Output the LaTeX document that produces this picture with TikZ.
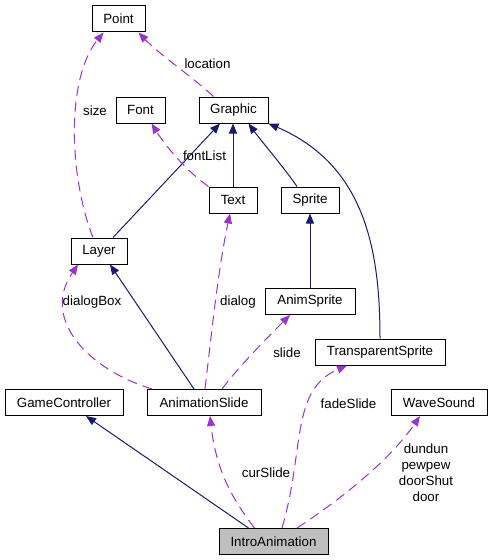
\documentclass[tikz,border=0pt]{standalone}
\usepackage{fontspec}
\setmainfont{Liberation Sans}
\usepackage{tikz}
\usetikzlibrary{arrows.meta,calc}

\definecolor{inhblue}{HTML}{191970}
\definecolor{usepurple}{HTML}{9A32CD}
\definecolor{mainfill}{HTML}{BFBFBF}

\tikzset{
  cls/.style={draw=black, line width=0.75pt, inner sep=0pt, minimum height=19.5pt,
    font=\fontsize{10}{12}\selectfont},
  wd/.style={minimum width=#1*0.75pt},
  lbl/.style={inner sep=0pt, align=center, font=\fontsize{10}{12}\selectfont},
  inh/.style={draw=inhblue, line width=0.75pt,
    -{Triangle[length=7.5pt,width=6pt]}},
  uses/.style={draw=usepurple, line width=0.75pt, dash pattern=on 7.5pt off 4.5pt,
    -{Triangle[length=7.5pt,width=6pt,fill=usepurple]}}
}

\begin{document}
\begin{tikzpicture}[x=0.75pt, y=-0.75pt]
\useasboundingbox (0,0) rectangle (492,560);

% classes
\node[cls, wd=53] (Point) at (118.5,19) {Point};
\node[cls, wd=49] (Font) at (140.5,110) {Font};
\node[cls, wd=69] (Graphic) at (233.5,110) {Graphic};
\node[cls, wd=48] (Text) at (233,200) {Text};
\node[cls, wd=58] (Sprite) at (310,200) {Sprite};
\node[cls, wd=56] (Layer) at (99,251) {Layer};
\node[cls, wd=90] (AnimSprite) at (310,301.5) {AnimSprite};
\node[cls, wd=130] (TransparentSprite) at (380,352) {TransparentSprite};
\node[cls, wd=118] (GameController) at (64,402.5) {GameController};
\node[cls, wd=114] (AnimationSlide) at (204,402.5) {AnimationSlide};
\node[cls, wd=96] (WaveSound) at (439,402.5) {WaveSound};
\node[cls, wd=109, fill=mainfill] (IntroAnimation) at (273.5,541.5) {IntroAnimation};

% inheritance
\draw[inh] ($(Layer.north)+(14,0)$) -- ($(Graphic.south)+(-13.5,0)$);
\draw[inh] (Text.north) -- (Text.north |- Graphic.south);
\draw[inh] ($(Sprite.north)+(-13,0)$) .. controls (282,165) and (262,142) .. ($(Graphic.south)+(15,0)$);
\draw[inh] (AnimSprite.north) -- (Sprite.south);
\draw[inh] (TransparentSprite.north) .. controls (380,250) and (365,165) .. (Graphic.south east);
\draw[inh] ($(IntroAnimation.north)+(-25,0)$) -- ($(GameController.south)+(22,0)$);
\draw[inh] ($(AnimationSlide.north)+(-10,0)$) -- ($(Layer.south)+(11,0)$);

% usage
\draw[uses] ($(Graphic.north)+(-20,0)$) .. controls (190,75) and (160,55) .. ($(Point.south)+(20,0)$);
\draw[uses] ($(Layer.north)+(-6,0)$) .. controls (70,180) and (65,80) .. ($(Point.south)+(-15,0)$);
\draw[uses] (Text.north west) .. controls (185,170) and (165,145) .. ($(Font.south)+(11,0)$);
\draw[uses] ($(AnimationSlide.north)+(1,0)$) .. controls (212,330) and (218,270) .. ($(Text.south)+(-3,0)$);
\draw[uses] ($(AnimationSlide.north)+(-52,0)$) .. controls (90,370) and (40,320) .. ($(Layer.south)+(-21,0)$);
\draw[uses] ($(AnimationSlide.north)+(18,0)$) .. controls (240,365) and (270,335) .. ($(AnimSprite.south)+(-20,0)$);
\draw[uses] ($(IntroAnimation.north)+(-19,0)$) .. controls (225,490) and (215,460) .. ($(AnimationSlide.south)+(6,0)$);
\draw[uses] ($(IntroAnimation.north)+(8.5,0)$) .. controls (305,450) and (290,390) .. ($(TransparentSprite.south)+(-33,0)$);
\draw[uses] ($(IntroAnimation.north)+(23.5,0)$) .. controls (340,500) and (390,460) .. ($(WaveSound.south)+(-19,0)$);

% labels
\node[lbl] (lLocation) at (207.5,64) {location};
\node[lbl] (lSize) at (95,111) {size};
\node[lbl] (lFontList) at (204.5,156) {fontList};
\node[lbl] (lDialog) at (238,302) {dialog};
\node[lbl] (lDialogBox) at (92,302) {dialogBox};
\node[lbl] (lSlide) at (287,353) {slide};
\node[lbl] (lCurSlide) at (266,473) {curSlide};
\node[lbl] (lFadeSlide) at (348.5,404) {fadeSlide};
\node[lbl] (lSounds) at (426,473) {dundun\\pewpew\\doorShut\\door};
\end{tikzpicture}
\end{document}
